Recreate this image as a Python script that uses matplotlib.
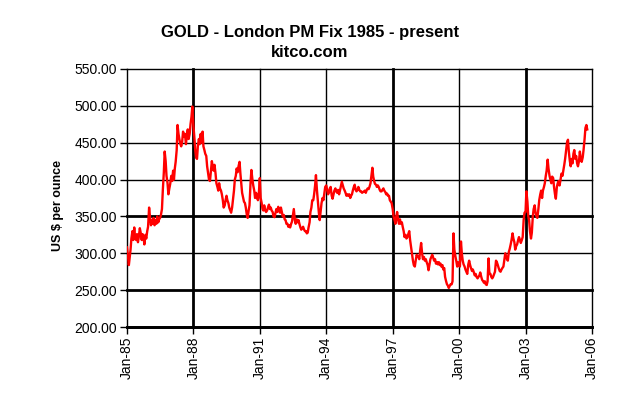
import matplotlib
matplotlib.use("Agg")
import matplotlib.pyplot as plt
import matplotlib.dates as mdates
import numpy as np
import pandas as pd

# London PM fix, two readings a month (1st / 15th), Jan 1985 .. Oct 2005
p1985 = [308, 298, 284, 295, 305, 320, 330, 318, 335, 320, 318, 326,
         315, 322, 334, 328, 318, 326, 322, 312, 325, 320, 330, 336]
p1986 = [362, 350, 338, 345, 340, 348, 338, 345, 340, 350, 342, 346,
         348, 352, 360, 385, 410, 438, 425, 405, 395, 380, 388, 394]
p1987 = [405, 398, 412, 400, 415, 424, 440, 474, 462, 455, 448, 445,
         452, 465, 458, 462, 448, 460, 468, 455, 462, 475, 485, 499]
p1988 = [474, 460, 440, 430, 428, 445, 455, 448, 462, 450, 465, 445,
         440, 435, 432, 418, 408, 400, 398, 410, 425, 418, 412, 420]
p1989 = [408, 395, 390, 385, 395, 388, 385, 380, 372, 362, 365, 372,
         378, 372, 368, 362, 358, 355, 362, 372, 385, 400, 405, 415]
p1990 = [410, 418, 424, 408, 395, 382, 375, 370, 368, 362, 352, 348,
         358, 365, 395, 413, 400, 392, 385, 375, 382, 376, 372, 380]
p1991 = [402, 375, 368, 360, 358, 365, 358, 356, 358, 362, 366, 360,
         362, 358, 356, 350, 349, 354, 360, 356, 363, 358, 355, 362]
p1992 = [355, 350, 352, 346, 345, 340, 340, 336, 338, 335, 340, 343,
         352, 360, 345, 340, 346, 342, 345, 340, 335, 332, 334, 336]
p1993 = [332, 330, 330, 327, 328, 335, 342, 356, 362, 372, 372, 380,
         392, 406, 385, 372, 355, 345, 358, 368, 375, 372, 382, 390]
p1994 = [392, 386, 380, 383, 388, 390, 378, 374, 380, 385, 388, 384,
         382, 386, 380, 385, 392, 397, 392, 388, 385, 382, 378, 380]
p1995 = [378, 380, 375, 378, 380, 385, 390, 393, 386, 384, 386, 390,
         386, 384, 384, 382, 383, 384, 385, 382, 386, 388, 387, 390]
p1996 = [395, 405, 416, 404, 398, 394, 393, 390, 392, 390, 386, 384,
         384, 386, 388, 385, 383, 380, 381, 378, 378, 372, 370, 368]
p1997 = [360, 350, 345, 340, 350, 356, 345, 340, 346, 340, 342, 336,
         330, 322, 325, 320, 322, 326, 330, 318, 308, 300, 290, 284]
p1998 = [282, 290, 298, 295, 296, 292, 305, 314, 300, 292, 295, 290,
         292, 288, 284, 277, 285, 292, 295, 298, 294, 290, 292, 286]
p1999 = [288, 285, 288, 284, 286, 282, 284, 278, 280, 268, 262, 258,
         256, 253, 256, 258, 258, 262, 327, 305, 296, 290, 282, 288]
p2000 = [285, 282, 316, 300, 290, 285, 282, 278, 275, 272, 285, 290,
         284, 280, 276, 278, 274, 270, 272, 268, 266, 268, 270, 274]
p2001 = [268, 264, 262, 260, 262, 258, 257, 262, 293, 272, 272, 268,
         266, 268, 272, 275, 290, 288, 284, 280, 276, 275, 278, 280]
p2002 = [282, 290, 300, 296, 292, 290, 302, 306, 312, 318, 327, 320,
         315, 305, 310, 312, 318, 322, 318, 314, 318, 322, 345, 355]
p2003 = [356, 384, 370, 350, 345, 330, 320, 328, 350, 360, 365, 355,
         350, 348, 360, 372, 380, 385, 375, 385, 390, 395, 405, 412]
p2004 = [427, 415, 405, 400, 395, 404, 402, 390, 380, 374, 390, 395,
         398, 392, 400, 408, 405, 412, 420, 428, 440, 450, 454, 438]
p2005 = [425, 418, 428, 422, 435, 440, 428, 432, 422, 418,
         425, 438, 428, 424, 430, 440, 455, 470, 474, 468]

prices = (p1985 + p1986 + p1987 + p1988 + p1989 + p1990 + p1991 + p1992 +
          p1993 + p1994 + p1995 + p1996 + p1997 + p1998 + p1999 + p2000 +
          p2001 + p2002 + p2003 + p2004 + p2005)
dates = pd.date_range("1985-01-01", periods=len(prices), freq="SMS")

tick_years = [1985, 1988, 1991, 1994, 1997, 2000, 2003, 2006]
thick_years = [1988, 1997, 2003]
y_ticks = [200, 250, 300, 350, 400, 450, 500, 550]
thick_y = [200, 250, 350]

plt.rcParams['font.family'] = ['Liberation Sans', 'DejaVu Sans']

fig = plt.figure(figsize=(6.2, 3.97), dpi=100)
ax = fig.add_axes([0.2048, 0.1763, 0.750, 0.650])

tick_dates = [pd.Timestamp(f"{y}-01-01") for y in tick_years]

# grid, some lines drawn heavier like the original
for y in y_ticks:
    ax.axhline(y, color='black', lw=2.0 if y in thick_y else 1.0, zorder=1, clip_on=False)
for yr, d in zip(tick_years, tick_dates):
    if yr == 1985:
        continue
    ax.axvline(d, color='black', lw=2.0 if yr in thick_years else 1.0, zorder=1, clip_on=False)

ax.plot(dates, prices, color='#FF0000', lw=1.7, zorder=3)

ax.set_xlim(tick_dates[0], tick_dates[-1])
ax.set_ylim(200, 550)
ax.set_yticks(y_ticks)
ax.set_yticklabels([f"{v:.2f}" for v in y_ticks], fontsize=10)
ax.set_xticks(tick_dates)
ax.xaxis.set_major_formatter(mdates.DateFormatter("%b-%y"))
plt.setp(ax.get_xticklabels(), rotation=90, fontsize=10)
ax.tick_params(axis='both', direction='out', length=5, width=1, pad=2)

for s in ['top', 'right']:
    ax.spines[s].set_visible(False)
ax.spines['left'].set_linewidth(1.0)
ax.spines['bottom'].set_linewidth(2.0)

ax.set_ylabel("US $ per ounce", fontsize=9, fontweight='bold')
ax.yaxis.set_label_coords(-0.135, 0.47)

fig.text(0.5, 0.918, "GOLD - London PM Fix 1985 - present", ha='center', va='center',
         fontsize=12, fontweight='bold')
fig.text(0.5, 0.868, "kitco.com", ha='center', va='center', fontsize=12, fontweight='bold')

fig.savefig("out.png", dpi=100)
